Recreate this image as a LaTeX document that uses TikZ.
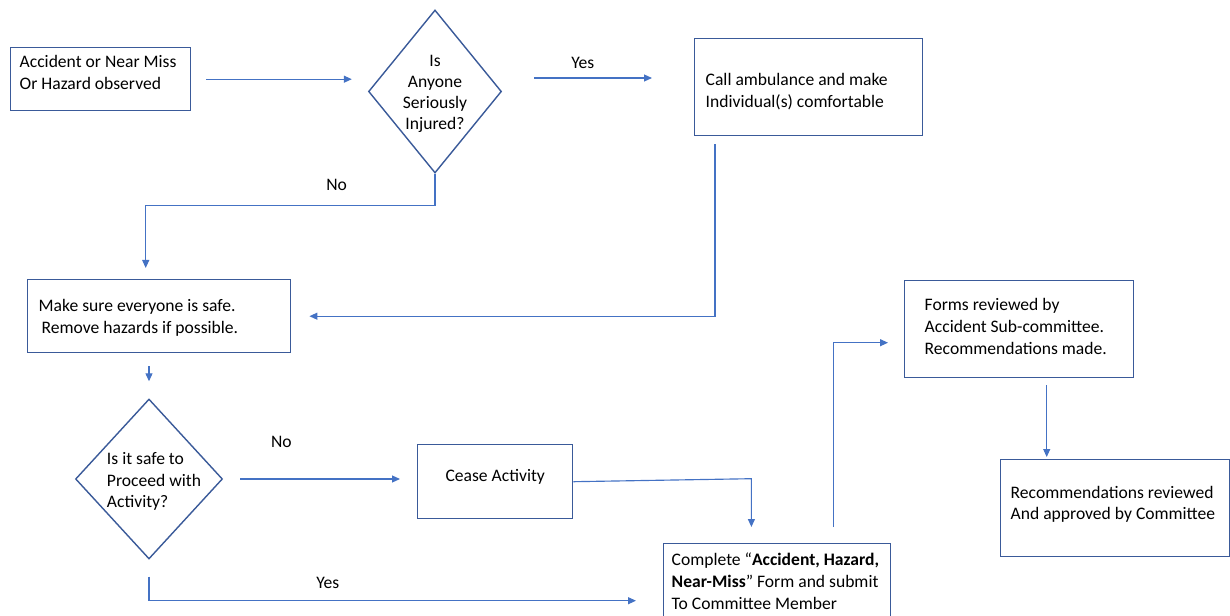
\documentclass[tikz,border=0pt]{standalone}
\usepackage{fontspec}
\setmainfont{Carlito}
\usetikzlibrary{shapes.geometric,arrows.meta}
\definecolor{linkblue}{HTML}{4472C4}
\definecolor{edgeblue}{HTML}{3A5A99}
\begin{document}
\begin{tikzpicture}[x=0.2mm,y=-0.2mm,>={Triangle[length=1.6mm,width=1.4mm]},
  every node/.style={font=\fontsize{10}{12.4}\selectfont},
  box/.style={draw=edgeblue,line width=0.8pt,anchor=north west,align=flush left,inner ysep=0pt,text height=7pt},
  decision/.style={draw=edgeblue,line width=0.8pt,diamond,inner sep=-1pt,text depth=0pt},
  link/.style={draw=linkblue,line width=0.65pt,->},
  lbl/.style={inner sep=0pt}]
  \useasboundingbox (0,0) rectangle (1230,616);
  \node[box,inner xsep=1.8mm,text width=32.4mm,minimum height=12.6mm,text depth=20.1pt] (seen) at (10,47) {Accident or Near Miss\\Or Hazard observed};
  \node[decision,align=flush center,minimum width=26.6mm,minimum height=32.6mm,aspect=0.82,text height=42.7pt,font=\fontsize{10}{11.8}\selectfont] (hurt) at (435,91.5) {Is\\Anyone\\Seriously\\Injured?};
  \node[box,inner xsep=2.2mm,text width=41.2mm,minimum height=19.4mm,text depth=8.7pt] (ambul) at (694,38) {Call ambulance and make\\Individual(s) comfortable};
  \node[box,inner xsep=2.2mm,text width=48.2mm,minimum height=14.6mm,text depth=12.1pt] (safe) at (27,279) {Make sure everyone is safe.\\\hspace*{0.6mm}Remove hazards if possible.};
  \node[decision,align=flush left,inner sep=-4pt,minimum width=29.4mm,minimum height=32mm,aspect=0.92,text height=33pt] (proceed) at (149,479) {\hspace*{2mm}Is it safe to\\\hspace*{2mm}Proceed with\\\hspace*{2mm}Activity?};
  \node[box,align=flush center,inner xsep=2mm,text width=27mm,minimum height=14.8mm,text depth=7pt] (cease) at (417,444) {Cease Activity};
  \node[box,inner xsep=1.6mm,text width=42.2mm,minimum height=15.6mm,text depth=26.4pt] (form) at (663,543) {Complete “\textbf{Accident, Hazard,}\\\textbf{Near-Miss}” Form and submit\\To Committee Member};
  \node[box,inner xsep=4mm,text width=37.8mm,minimum height=19.4mm,text depth=28.1pt] (review) at (904,280) {Forms reviewed by\\Accident Sub-committee.\\Recommendations made.};
  \node[box,inner xsep=2mm,text width=41.8mm,minimum height=19.4mm,text depth=17.8pt,font=\fontsize{10}{11.6}\selectfont] (approve) at (1000,459) {Recommendations reviewed\\And approved by Committee};

  \draw[link,shorten <=3mm,shorten >=3.2mm] (seen.east) -- (seen.east -| hurt.west);
  \draw[link,shorten <=6.4mm,shorten >=8.4mm] ([yshift=2.7mm]hurt.east) -- ([yshift=2.7mm]hurt.east -| ambul.west) node[lbl,pos=0.42,above=1.8mm] {Yes};
  \draw[link,shorten >=2.2mm] (hurt.south) -- ++(0,32) -| node[lbl,pos=0.17,above=3mm] {No} ([xshift=-2.7mm]safe.north);
  \draw[link,shorten <=1.6mm,shorten >=3.6mm] ([xshift=4.2mm]ambul.south west) |- (safe.east);
  \draw[link,shorten <=2.6mm,shorten >=3.4mm] (safe.south -| proceed.north) -- (proceed.north);
  \draw[link,shorten <=3.4mm,shorten >=3.4mm] (proceed.east) -- (proceed.east -| cease.west) node[lbl,pos=0.3,above=6.2mm] {No};
  \draw[link,shorten >=3.2mm] (cease.east) -- ++(178,-3) coordinate (bend) -- (bend |- form.north);
  \draw[link,shorten <=3.4mm,shorten >=5.4mm] (proceed.south) |- node[lbl,pos=0.674,above=2.4mm] {Yes} ([yshift=-3.6mm]form.west);
  \draw[link,shorten <=3.2mm,shorten >=3.2mm] ([xshift=11.3mm]form.north) |- ([yshift=-2.7mm]review.west);
  \draw[link,shorten <=1.4mm,shorten >=0.4mm] ([xshift=5.5mm]review.south) -- ([xshift=5.5mm]review.south |- approve.north);
\end{tikzpicture}
\end{document}
